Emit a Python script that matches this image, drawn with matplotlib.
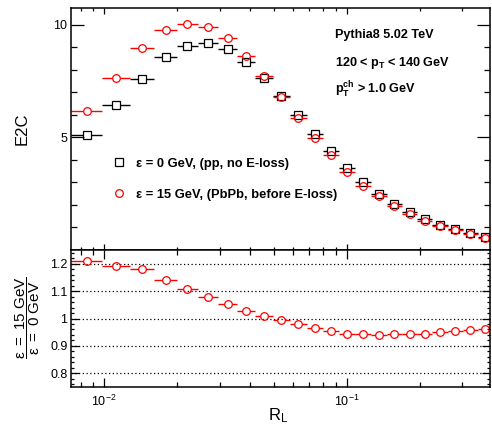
import numpy as np
import matplotlib
matplotlib.use("Agg")
import matplotlib.pyplot as plt
from matplotlib.lines import Line2D
from matplotlib.ticker import FixedLocator, LogLocator, NullFormatter, MultipleLocator, FuncFormatter

plt.rcParams["font.family"] = ["Liberation Sans", "DejaVu Sans"]
plt.rcParams["mathtext.fontset"] = "custom"
plt.rcParams["mathtext.rm"] = "Liberation Sans"
plt.rcParams["mathtext.it"] = "Liberation Sans:italic"
plt.rcParams["mathtext.bf"] = "Liberation Sans:bold"

# R_L bin edges
rl_edges = [0.00731, 0.00981, 0.01275, 0.01612, 0.01995, 0.02439, 0.02953, 0.03528,
            0.04190, 0.04946, 0.05823, 0.06842, 0.07987, 0.09314, 0.10839, 0.12592,
            0.14616, 0.16894, 0.19523, 0.22568, 0.26152, 0.30200, 0.34754, 0.39937]

# E2C, eps = 0 GeV (pp, no E-loss)
e2c_pp = [5.12, 6.43, 7.60, 8.57, 9.06, 9.18, 8.92, 8.36, 7.65, 6.84, 5.97, 5.13,
          4.38, 3.63, 3.01, 2.50, 2.04, 1.67, 1.36, 1.12, 0.95, 0.75, 0.58]

# E2C, eps = 15 GeV (PbPb, before E-loss)
e2c_pbpb = [6.19, 7.65, 8.96, 9.77, 10.04, 9.88, 9.41, 8.62, 7.73, 6.81, 5.88, 4.99,
            4.20, 3.47, 2.86, 2.38, 1.95, 1.59, 1.30, 1.08, 0.90, 0.71, 0.55]

# ratio eps=15 / eps=0
ratio = [1.209, 1.191, 1.179, 1.140, 1.108, 1.079, 1.054, 1.028, 1.010, 0.995, 0.979,
         0.966, 0.955, 0.945, 0.943, 0.939, 0.943, 0.943, 0.943, 0.951, 0.956, 0.959, 0.960]

legend_labels = ["ε = 0 GeV, (pp, no E-loss)", "ε = 15 GeV, (PbPb, before E-loss)"]

W, H = 492, 425
fig = plt.figure(figsize=(W / 100, H / 100), dpi=100)
ax1 = fig.add_axes([71 / W, 1 - 250 / H, 419 / W, 242 / H])
ax2 = fig.add_axes([71 / W, 1 - 387 / H, 419 / W, 137 / H], sharex=ax1)

ax1.set_xscale("log")
ax1.set_xlim(0.0073, 0.39)
ax1.set_ylim(0, 10.74)
ax2.set_ylim(0.75, 1.25)

MS, MEW = 5.5, 0.9


def draw_points(ax, y, color, marker, gap=4.0):
    """Points with horizontal bin bars that stop at the marker edge (ROOT style)."""
    edges = np.asarray(rl_edges)
    lo, hi = edges[:-1], edges[1:]
    x = np.sqrt(lo * hi)
    y = np.asarray(y, dtype=float)
    disp = ax.transData.transform(np.column_stack([x, y]))
    inv = ax.transData.inverted()
    left = inv.transform(disp - [gap, 0])[:, 0]
    right = inv.transform(disp + [gap, 0])[:, 0]
    ax.hlines(y, lo, left, color=color, lw=1.0)
    ax.hlines(y, right, hi, color=color, lw=1.0)
    ax.plot(x, y, ls="none", marker=marker, mfc="none", mec=color, ms=MS, mew=MEW)


draw_points(ax1, e2c_pp, "black", "s")
draw_points(ax1, e2c_pbpb, "#ff0000", "o")
draw_points(ax2, ratio, "#ff0000", "o")

# axes styling
for ax in (ax1, ax2):
    for sp in ax.spines.values():
        sp.set_linewidth(1.1)
    ax.xaxis.set_major_locator(LogLocator(base=10))
    ax.xaxis.set_minor_locator(LogLocator(base=10, subs=np.arange(2, 10)))
    ax.xaxis.set_minor_formatter(NullFormatter())
    ax.tick_params(which="both", direction="in", top=True, right=True, labelsize=9, width=0.9)

ax1.yaxis.set_major_locator(FixedLocator([5, 10]))
ax1.yaxis.set_minor_locator(FixedLocator(np.arange(1, 11)))
ax1.tick_params(axis="y", which="major", length=9.5, pad=2.5)
ax1.tick_params(axis="y", which="minor", length=4.5)
ax1.tick_params(axis="x", which="major", length=4)
ax1.tick_params(axis="x", which="minor", length=2.5)
ax1.tick_params(axis="x", labelbottom=False)

ax2.yaxis.set_major_locator(FixedLocator([0.8, 0.9, 1.0, 1.1, 1.2]))
ax2.yaxis.set_minor_locator(MultipleLocator(0.02))
ax2.yaxis.set_major_formatter(FuncFormatter(lambda v, p: f"{v:g}"))
ax2.tick_params(axis="y", which="major", length=5.5, pad=2.5)
ax2.tick_params(axis="y", which="minor", length=2.5)
ax2.tick_params(axis="x", which="major", length=6.5, pad=5)
ax2.tick_params(axis="x", which="minor", length=3.5)
ax2.yaxis.grid(True, which="major", color="black", ls=(0, (1, 2)), lw=0.9)

# legend
handles = [Line2D([], [], ls="none", marker="s", mfc="none", mec="black", ms=MS, mew=MEW),
           Line2D([], [], ls="none", marker="o", mfc="none", mec="#ff0000", ms=MS, mew=MEW)]
ax1.legend(handles, legend_labels, loc="center left", bbox_to_anchor=(0.1005, 0.2926),
           frameon=False, prop={"weight": "bold", "size": 9.3}, handlelength=0.9,
           handletextpad=0.85, labelspacing=1.45, borderpad=0, borderaxespad=0)

# annotations
txt = dict(transform=ax1.transAxes, fontweight="bold", fontsize=9.1, va="baseline")
ax1.text(0.630, 0.875, "Pythia8 5.02 TeV", **txt)
ax1.text(0.630, 0.7616, r"120 < $\mathbf{p}_{\mathbf{T}}$ < 140 GeV", **txt)
ax1.text(0.630, 0.6446, r"$\mathbf{p}_{\mathbf{T}}^{\mathbf{ch}}$ > 1.0 GeV", **txt)

# axis titles
fig.text(22 / W, 1 - 129 / H, "E2C", rotation=90, ha="center", va="center", fontsize=12)
fig.text(28 / W, 1 - 318 / H, r"$\dfrac{\mathrm{ε\ =\ 15\ GeV}}{\mathrm{ε\ =\ 0\ GeV}}$",
         rotation=90, ha="center", va="center", fontsize=11)
ax2.set_xlabel(r"R$_{\mathrm{L}}$", fontsize=12)
ax2.xaxis.set_label_coords(0.494, -0.14)

fig.savefig("out.png", dpi=100)
